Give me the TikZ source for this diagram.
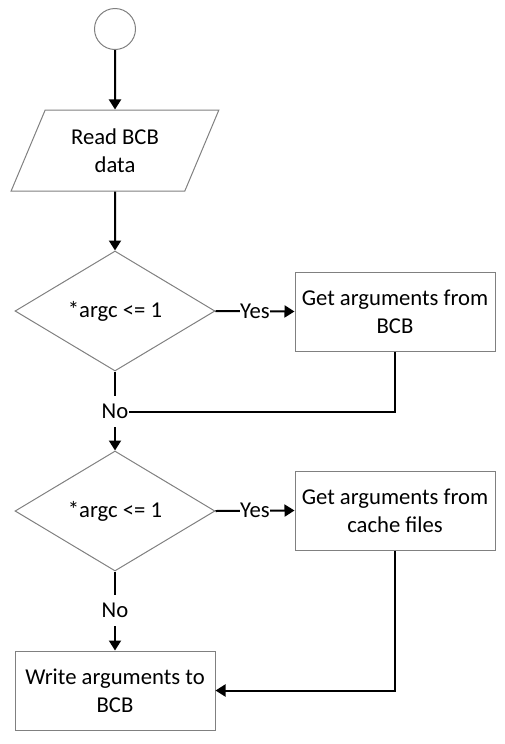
\documentclass[tikz,border=0pt]{standalone}
\usepackage{fontspec}
\setmainfont{Carlito}
\usepackage{tikz}
\usetikzlibrary{shapes.geometric}
\usetikzlibrary{arrows.meta}
\tikzset{every picture/.style={line width=0.75pt}}
\tikzset{
  shapeline/.style={draw={rgb, 255:red, 128; green, 128; blue, 128}, line width=0.75pt, font=\fontsize{17}{21}\selectfont, align=center},
  flow/.style={line width=1.5pt, -{Triangle[length=7.5pt, width=9pt]}},
  plain/.style={line width=1.5pt},
  lbl/.style={font=\fontsize{17}{21}\selectfont, fill=white, inner xsep=0.5pt, inner ysep=6pt}
}

\begin{document}
\begin{tikzpicture}[x=0.75pt,y=0.75pt,yscale=-1,xscale=1]
      \useasboundingbox (0,0) rectangle (505,744);
      % shapes
      \node (start) at (115,29) [shapeline, circle, minimum size=30.75pt, inner sep=0pt] {};
      \node (read) at (115,150.5) [shapeline, trapezium, trapezium left angle=64, trapezium right angle=116,
            trapezium stretches=true, minimum width=156pt, minimum height=60.75pt, inner sep=0pt] {Read BCB\\data};
      \node (test1) at (115,311) [shapeline, diamond, aspect=1.667, minimum width=150pt, minimum height=90pt, inner sep=0pt] {*argc <= 1};
      \node (frombcb) at (395,311.5) [shapeline, rectangle, minimum width=150pt, minimum height=59.25pt] {Get arguments from\\BCB};
      \node (no1) at (115,411.5) [lbl] {No};
      \node (test2) at (115,511) [shapeline, diamond, aspect=1.667, minimum width=150pt, minimum height=90pt, inner sep=0pt] {*argc <= 1};
      \node (fromcache) at (395,510.5) [shapeline, rectangle, minimum width=150pt, minimum height=59.25pt] {Get arguments from\\cache files};
      \node (no2) at (115,610.5) [lbl] {No};
      \node (writebcb) at (115,690.5) [shapeline, rectangle, minimum width=150pt, minimum height=59.25pt] {Write arguments to\\BCB};
      % connectors
      \draw [flow] (start) -- (read);
      \draw [flow] (read) -- (test1);
      \draw [flow] (test1.east) -- node [lbl, inner ysep=0.5pt] {Yes} (frombcb.west);
      \draw [plain] (test1.south) -- (no1.north);
      \draw [plain] (frombcb.south) |- (no1.east);
      \draw [flow] (no1.south) -- (test2.north);
      \draw [flow] (test2.east) -- node [lbl, inner ysep=0.5pt] {Yes} (fromcache.west);
      \draw [plain] (test2.south) -- (no2.north);
      \draw [flow] (no2.south) -- (writebcb.north);
      \draw [flow] (fromcache.south) |- (writebcb.east);
\end{tikzpicture}
\end{document}
